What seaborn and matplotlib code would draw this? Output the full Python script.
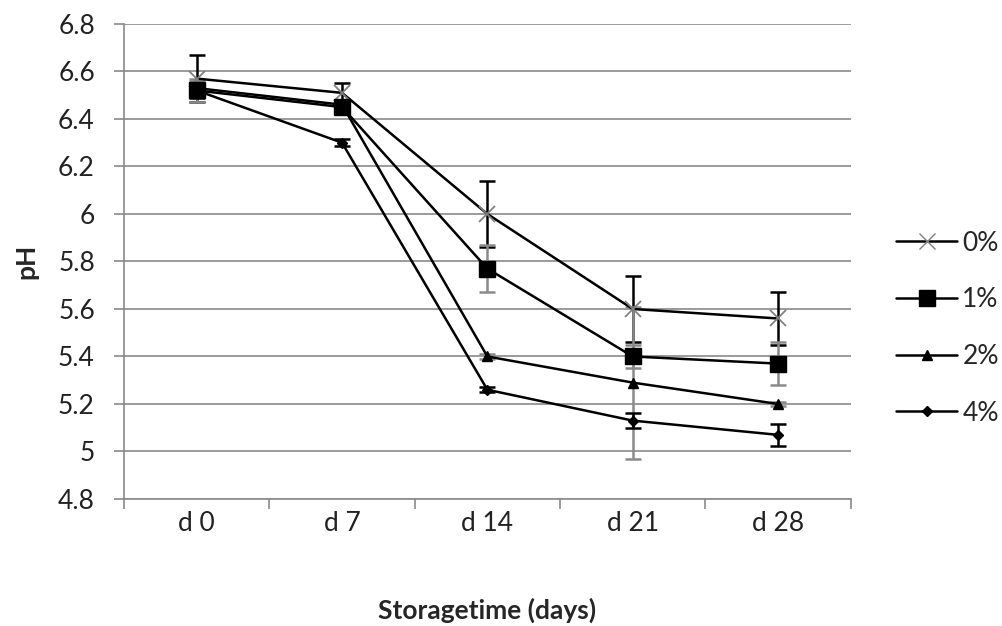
import numpy as np
import pandas as pd
import matplotlib
matplotlib.use("Agg")
import matplotlib.pyplot as plt
import seaborn as sns

# ---- data ----
days = ["d 0", "d 7", "d 14", "d 21", "d 28"]
series = ["0%", "1%", "2%", "4%"]
ph_0 = [6.57, 6.51, 6.00, 5.60, 5.56]
ph_1 = [6.52, 6.45, 5.77, 5.40, 5.37]
ph_2 = [6.53, 6.46, 5.40, 5.29, 5.20]
ph_4 = [6.52, 6.30, 5.26, 5.13, 5.07]
err_0 = [0.10, 0.04, 0.14, 0.14, 0.11]
err_1 = [0.05, 0.03, 0.10, 0.05, 0.09]
err_2 = [0.03, 0.02, 0.01, 0.32, 0.01]
err_4 = [0.03, 0.015, 0.01, 0.03, 0.045]
yticks = [4.8, 5.0, 5.2, 5.4, 5.6, 5.8, 6.0, 6.2, 6.4, 6.6, 6.8]
ytick_labels = ["4.8", "5", "5.2", "5.4", "5.6", "5.8", "6", "6.2", "6.4", "6.6", "6.8"]

values = [ph_0, ph_1, ph_2, ph_4]
errors = [err_0, err_1, err_2, err_4]

rows = []
for s, vals in zip(series, values):
    for i, (d, v) in enumerate(zip(days, vals)):
        rows.append({"day": d, "pos": i, "series": s, "pH": v})
df = pd.DataFrame(rows)

sns.set_theme(style="white")
plt.rcParams["font.family"] = ["Lato", "DejaVu Sans"]

fig = plt.figure(figsize=(10.02, 6.26), dpi=100)
ax = fig.add_axes([0.1238, 0.2029, 0.849 - 0.1238, 0.9617 - 0.2029])

markers = {"0%": "x", "1%": "s", "2%": "^", "4%": "D"}
msizes = {"0%": 12, "1%": 12, "2%": 7, "4%": 5}
err_colors = {"0%": "black", "1%": "#8a8a8a", "2%": "#8a8a8a", "4%": "black"}

# error bars first (behind)
for s, vals, errs in zip(series, values, errors):
    ax.errorbar(np.arange(len(days)), vals, yerr=errs, fmt="none",
                ecolor=err_colors[s], elinewidth=1.8, capsize=6, capthick=1.8, zorder=2)

for s in series:
    sub = df[df["series"] == s]
    sns.lineplot(data=sub, x="pos", y="pH", color="black", marker=markers[s],
                 markersize=msizes[s], linewidth=1.8, ax=ax, legend=False, zorder=3,
                 markeredgecolor="#808080" if s == "0%" else "black",
                 markerfacecolor="black",
                 markeredgewidth=1.3 if s == "0%" else 1.0)

ax.set_xlim(-0.5, len(days) - 0.5)
ax.set_ylim(4.8, 6.8)
ax.set_yticks(yticks)
ax.set_yticklabels(ytick_labels, fontsize=19, color="#222222")
ax.set_xticks(np.arange(len(days)))
ax.set_xticklabels(days, fontsize=19, color="#222222")
ax.set_xticks(np.arange(len(days) + 1) - 0.5, minor=True)
ax.tick_params(axis="x", which="major", length=0, pad=9)
ax.tick_params(axis="x", which="minor", length=7, width=1.2, color="#8a8a8a", direction="out", bottom=True)
ax.tick_params(axis="y", which="major", length=7, width=1.2, color="#8a8a8a", direction="out", left=True, pad=14)

ax.yaxis.grid(True, color="#8a8a8a", linewidth=1.2)
ax.xaxis.grid(False)
ax.set_axisbelow(True)
for sp in ["top", "right"]:
    ax.spines[sp].set_visible(False)
for sp in ["left", "bottom"]:
    ax.spines[sp].set_color("#8a8a8a")
    ax.spines[sp].set_linewidth(1.2)

ax.set_xlabel("Storagetime (days)", fontsize=19, fontweight="bold", labelpad=44)
ax.set_ylabel("pH", fontsize=19, fontweight="bold", labelpad=14)

# legend
handles = []
for s in series:
    h, = ax.plot([], [], color="black", linewidth=1.8, marker=markers[s],
                 markersize=msizes[s],
                 markeredgecolor="#808080" if s == "0%" else "black",
                 markerfacecolor="black")
    handles.append(h)
fig.legend(handles, series, loc="center left", bbox_to_anchor=(0.884, 0.476),
           frameon=False, fontsize=19, handlelength=2.3, handletextpad=0.2,
           labelspacing=1.2, borderaxespad=0)

fig.savefig("out.png", dpi=100, facecolor="white")
